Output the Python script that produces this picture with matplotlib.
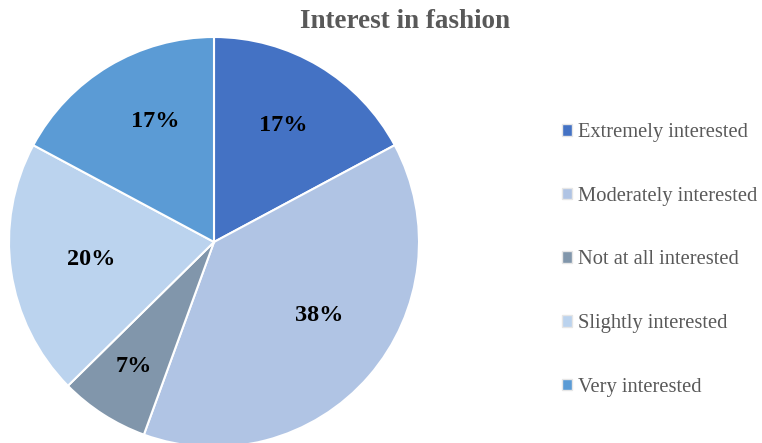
import matplotlib.pyplot as plt
import numpy as np

plt.rcParams['font.family'] = ['Liberation Serif', 'DejaVu Serif']

categorias = ['Extremely interested', 'Moderately interested', 'Not at all interested',
              'Slightly interested', 'Very interested']
percentuais = [17, 38, 7, 20, 17]
cores = ['#4472C4', '#B0C4E4', '#8196AB', '#BBD3EE', '#5B9BD5']
# posição de cada rótulo: distância ao centro (fração do raio) e desvio angular (graus)
dist_rotulos = [0.66, 0.625, 0.72, 0.605, 0.655]
desvio_rotulos = [0, 6, 0, 0, -5]

fig = plt.figure(figsize=(7.62, 4.43), dpi=100)
W, H = 762, 443
cx, cy, r = 214, 242, 205
ax = fig.add_axes([(cx - r) / W, (H - cy - r) / H, 2 * r / W, 2 * r / H])

fatias, textos, pcts = ax.pie(percentuais, colors=cores, startangle=90, counterclock=False,
                              autopct='%1.0f%%', pctdistance=0.68, radius=1,
                              wedgeprops=dict(edgecolor='white', linewidth=1.5),
                              textprops=dict(fontsize=17.5, fontweight='bold', color='black'))
for w in fatias:
    w.set_clip_on(False)
for t, w, d, da in zip(pcts, fatias, dist_rotulos, desvio_rotulos):
    ang = np.deg2rad((w.theta1 + w.theta2) / 2 + da)
    t.set_position((d * np.cos(ang), d * np.sin(ang)))
ax.set_xlim(-1, 1)
ax.set_ylim(-1, 1)
ax.set_aspect('auto')
ax.axis('off')

fig.text(405 / W, 1 - 22 / H, 'Interest in fashion', ha='center', va='center',
         fontsize=19.5, fontweight='bold', color='#595959')

leg = fig.legend(fatias, categorias, loc='center left', bbox_to_anchor=(543 / W, 1 - 260 / H),
                 frameon=False, fontsize=14.8, labelcolor='#595959', handlelength=0.5,
                 handleheight=0.5, handletextpad=0.3, labelspacing=2.17)
for h in leg.legend_handles:
    h.set_edgecolor('#E6E6E6')
    h.set_linewidth(1)

fig.savefig('out.png', dpi=100)
